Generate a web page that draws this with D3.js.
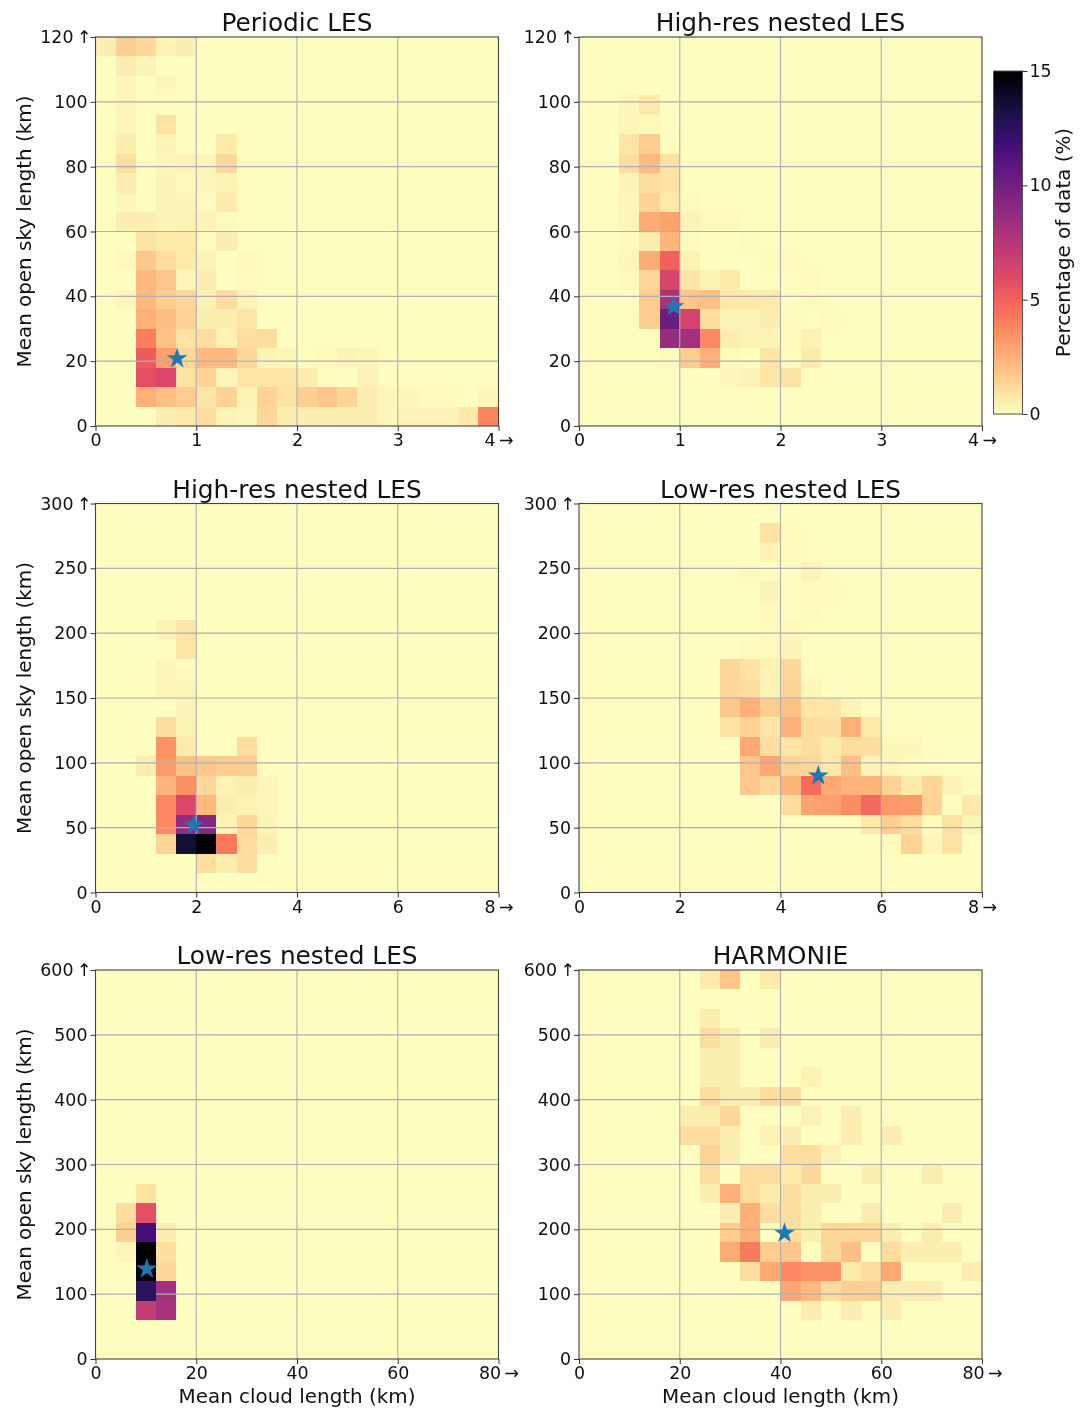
<!DOCTYPE html>
<html>
<head>
<meta charset="utf-8">
<script src="https://cdn.jsdelivr.net/npm/d3@7"></script>
<style>
    body { margin: 0; background: #fff; }
    svg { filter: blur(0.4px); }
    text { font-family: "DejaVu Sans", sans-serif; fill: #111; }
</style>
</head>
<body>
<div id="chart"></div>
<script>
// Percentage of data per bin, rows go from the top of the panel to the bottom
const periodicLes = [
    [.5,1.5,1.2,.4,.5,0,0,0,0,0,0,0,0,0,0,0,0,0,0,0],
    [.05,.5,.3,.05,0,0,0,0,0,0,0,0,0,0,0,0,0,0,0,0],
    [.05,.25,.05,.2,.03,0,0,0,0,0,0,0,0,0,0,0,0,0,0,0],
    [.05,.2,.05,.05,0,0,0,0,0,0,0,0,0,0,0,0,0,0,0,0],
    [0,.2,.03,.9,0,0,0,0,0,0,0,0,0,0,0,0,0,0,0,0],
    [.05,.5,.05,.3,.05,0,.6,0,0,0,0,0,0,0,0,0,0,0,0,0],
    [.05,1,.05,.2,.3,.2,1.2,0,0,0,0,0,0,0,0,0,0,0,0,0],
    [.05,.5,.05,.3,.15,.25,.4,0,0,0,0,0,0,0,0,0,0,0,0,0],
    [.05,.2,.05,.3,.35,.1,.6,0,0,0,0,0,0,0,0,0,0,0,0,0],
    [.05,.5,.5,.35,.4,.3,.1,0,0,0,0,0,0,0,0,0,0,0,0,0],
    [0,0,.9,.7,.7,.1,.5,0,0,0,0,0,0,0,0,0,0,0,0,0],
    [0,.15,1.7,1,.6,.3,.05,.15,0,0,0,0,0,0,0,0,0,0,0,0],
    [0,0,2.2,1.8,.2,.5,.05,.1,0,0,0,0,0,0,0,0,0,0,0,0],
    [0,.2,2.2,1.5,1.2,.4,1,.3,0,0,0,0,0,0,0,0,0,0,0,0],
    [0,0,2.5,2.1,1.4,.5,.5,.8,0,0,0,0,0,0,0,0,0,0,0,0],
    [0,0,4,1.9,.9,1,.4,1,1,0,0,0,0,0,0,0,0,0,0,0],
    [0,0,5.2,3,1.2,2.2,2.2,1.2,.3,.2,0,.1,.3,.2,0,0,0,0,0,0],
    [0,0,5.8,6.1,.9,1.3,.2,.8,.8,.8,.5,0,0,.3,0,0,0,0,0,0],
    [0,0,2.5,2,1.6,.8,1.4,.3,1.4,.9,1.5,1.8,1.3,.5,.2,.2,.1,.1,.03,.2],
    [0,0,0,.5,.7,1,.3,.2,1.2,.5,.5,.5,.5,.5,.2,.3,.3,.3,.7,3.8]
];
const highResSmall = [
    [0,0,0,0,0,0,0,0,0,0,0,0,0,0,0,0,0,0,0,0],
    [0,0,0,0,0,0,0,0,0,0,0,0,0,0,0,0,0,0,0,0],
    [0,0,0,0,0,0,0,0,0,0,0,0,0,0,0,0,0,0,0,0],
    [0,0,.2,.6,0,0,0,0,0,0,0,0,0,0,0,0,0,0,0,0],
    [0,0,.2,.15,0,0,0,0,0,0,0,0,0,0,0,0,0,0,0,0],
    [0,0,.8,1.6,.1,0,0,0,0,0,0,0,0,0,0,0,0,0,0,0],
    [0,0,1,2.2,.9,0,0,0,0,0,0,0,0,0,0,0,0,0,0,0],
    [0,0,.3,1,.9,0,0,0,0,0,0,0,0,0,0,0,0,0,0,0],
    [0,0,.25,1.4,.7,.1,0,0,0,0,0,0,0,0,0,0,0,0,0,0],
    [0,0,.25,2.6,2.9,.3,.1,.1,0,0,0,0,0,0,0,0,0,0,0,0],
    [0,0,.15,.5,2.3,.1,0,0,.1,0,0,0,0,0,0,0,0,0,0,0],
    [0,0,.25,2.6,5,.4,0,0,0,.1,.1,0,0,0,0,0,0,0,0,0],
    [0,0,.15,1.2,6.3,.8,.4,.6,0,0,0,.1,0,0,0,0,0,0,0,0],
    [0,0,0,1.6,8,1.8,2,.7,.7,.6,0,.1,0,0,0,0,0,0,0,0],
    [0,0,0,1.5,10.2,6.4,1.1,.3,.3,.5,.1,0,.1,0,0,0,0,0,0,0],
    [0,0,0,0,8.6,8.2,3.7,.5,.4,.3,.1,.4,0,0,0,0,0,0,0,0],
    [0,0,0,0,.1,1.6,2.5,.1,.03,.8,.03,.6,0,0,0,0,0,0,0,0],
    [0,0,0,0,0,0,0,.2,.35,.8,.9,0,0,0,0,0,0,0,0,0],
    [0,0,0,0,0,0,0,0,0,0,0,0,0,0,0,0,0,0,0,0],
    [0,0,0,0,0,0,0,0,0,0,0,0,0,0,0,0,0,0,0,0]
];
const highResLarge = [
    [0,0,0,0,0,0,0,0,0,0,0,0,0,0,0,0,0,0,0,0],
    [0,0,0,0,0,0,0,0,0,0,0,0,0,0,0,0,0,0,0,0],
    [0,0,0,0,0,0,0,0,0,0,0,0,0,0,0,0,0,0,0,0],
    [0,0,0,0,0,0,0,0,0,0,0,0,0,0,0,0,0,0,0,0],
    [0,0,0,0,0,0,0,0,0,0,0,0,0,0,0,0,0,0,0,0],
    [0,0,0,0,0,0,0,0,0,0,0,0,0,0,0,0,0,0,0,0],
    [0,0,0,.4,.8,0,0,0,0,0,0,0,0,0,0,0,0,0,0,0],
    [0,0,0,.05,.8,0,0,0,0,0,0,0,0,0,0,0,0,0,0,0],
    [0,0,0,.2,.1,0,0,0,0,0,0,0,0,0,0,0,0,0,0,0],
    [0,0,0,.2,.2,0,0,0,0,0,0,0,0,0,0,0,0,0,0,0],
    [0,0,0,.05,.3,0,0,0,0,0,0,0,0,0,0,0,0,0,0,0],
    [0,0,0,1,.4,0,0,0,0,0,0,0,0,0,0,0,0,0,0,0],
    [0,0,0,3.4,.6,0,0,1,0,0,0,0,0,0,0,0,0,0,0,0],
    [0,0,.5,3.2,1.9,1.7,1.6,1.6,0,0,0,0,0,0,0,0,0,0,0,0],
    [0,0,0,2.3,3.5,1.2,.4,.5,.2,0,0,0,0,0,0,0,0,0,0,0],
    [0,0,0,3.7,6.1,2.2,.5,.4,.2,0,0,0,0,0,0,0,0,0,0,0],
    [0,0,0,3.7,8.8,9.2,.3,1.2,.3,0,0,0,0,0,0,0,0,0,0,0],
    [0,0,0,1.3,13.5,15,4.2,1.1,.5,0,0,0,0,0,0,0,0,0,0,0],
    [0,0,0,0,0,1,.5,1,0,0,0,0,0,0,0,0,0,0,0,0],
    [0,0,0,0,0,0,0,0,0,0,0,0,0,0,0,0,0,0,0,0]
];
const lowResMedium = [
    [0,0,0,0,0,0,0,0,0,0,0,0,0,0,0,0,0,0,0,0],
    [0,0,0,0,0,0,0,0,0,.9,.1,0,0,0,0,0,0,0,0,0],
    [0,0,0,0,0,0,0,0,0,.35,.1,0,0,0,0,0,0,0,0,0],
    [0,0,0,0,0,0,0,0,.1,0,0,.3,0,0,0,0,0,0,0,0],
    [0,0,0,0,0,0,0,0,0,.3,0,.1,.1,0,0,0,0,0,0,0],
    [0,0,0,0,0,0,0,0,0,.15,0,.1,0,0,0,0,0,0,0,0],
    [0,0,0,0,0,0,0,0,0,.1,.15,0,0,0,0,0,0,0,0,0],
    [0,0,0,0,0,0,0,0,.1,.1,.3,0,0,0,0,0,0,0,0,0],
    [0,0,0,0,0,0,0,1.2,.9,.4,1.2,0,0,0,0,0,0,0,0,0],
    [0,0,0,0,0,0,0,1.2,1,.3,1.3,.25,0,0,0,0,0,0,0,0],
    [0,0,0,0,0,0,0,1.7,2.5,1.6,1.9,.8,.8,.3,0,0,0,0,0,0],
    [0,0,0,0,0,0,0,.9,1.4,.8,2.5,1.1,1,2.5,.6,0,0,0,0,0],
    [0,0,0,0,0,0,0,0,2.7,1,.8,1,.6,1.1,1,.2,.2,0,0,0],
    [0,0,0,0,0,0,0,0,1.8,2.8,1.4,1.2,.7,2,.3,.2,.1,.1,0,0],
    [0,0,0,0,0,0,0,0,1.7,1.2,2.3,4.6,2.7,2.4,2.4,1.4,.7,1.3,.4,.1],
    [0,0,0,0,0,0,0,0,0,0,1.1,2.9,3,3.6,4.8,3.3,3.2,1.4,.05,.7],
    [0,0,0,0,0,0,0,0,0,0,0,0,0,0,.7,1.5,1,.1,.9,.3],
    [0,0,0,0,0,0,0,0,0,0,0,0,0,0,0,.1,1.4,.2,.9,0],
    [0,0,0,0,0,0,0,0,0,0,0,0,0,0,0,0,0,0,0,0],
    [0,0,0,0,0,0,0,0,0,0,0,0,0,0,0,0,0,0,0,0]
];
const lowResLarge = [
    [0,0,0,0,0,0,0,0,0,0,0,0,0,0,0,0,0,0,0,0],
    [0,0,0,0,0,0,0,0,0,0,0,0,0,0,0,0,0,0,0,0],
    [0,0,0,0,0,0,0,0,0,0,0,0,0,0,0,0,0,0,0,0],
    [0,0,0,0,0,0,0,0,0,0,0,0,0,0,0,0,0,0,0,0],
    [0,0,0,0,0,0,0,0,0,0,0,0,0,0,0,0,0,0,0,0],
    [0,0,0,0,0,0,0,0,0,0,0,0,0,0,0,0,0,0,0,0],
    [0,0,0,0,0,0,0,0,0,0,0,0,0,0,0,0,0,0,0,0],
    [0,0,0,0,0,0,0,0,0,0,0,0,0,0,0,0,0,0,0,0],
    [0,0,0,0,0,0,0,0,0,0,0,0,0,0,0,0,0,0,0,0],
    [0,0,0,0,0,0,0,0,0,0,0,0,0,0,0,0,0,0,0,0],
    [0,0,0,0,0,0,0,0,0,0,0,0,0,0,0,0,0,0,0,0],
    [0,0,.9,0,0,0,0,0,0,0,0,0,0,0,0,0,0,0,0,0],
    [0,1.1,5.7,0,0,0,0,0,0,0,0,0,0,0,0,0,0,0,0,0],
    [0,1.5,11.7,.5,0,0,0,0,0,0,0,0,0,0,0,0,0,0,0,0],
    [0,.2,15,1,0,0,0,0,0,0,0,0,0,0,0,0,0,0,0,0],
    [0,0,15,1.2,0,0,0,0,0,0,0,0,0,0,0,0,0,0,0,0],
    [0,0,12.5,8.2,0,0,0,0,0,0,0,0,0,0,0,0,0,0,0,0],
    [0,0,7,8,0,0,0,0,0,0,0,0,0,0,0,0,0,0,0,0],
    [0,0,0,0,0,0,0,0,0,0,0,0,0,0,0,0,0,0,0,0],
    [0,0,0,0,0,0,0,0,0,0,0,0,0,0,0,0,0,0,0,0]
];
const harmonie = [
    [0,0,0,0,0,0,.6,1.8,0,.6,0,0,0,0,0,0,0,0,0,0],
    [0,0,0,0,0,0,0,0,0,0,0,0,0,0,0,0,0,0,0,0],
    [0,0,0,0,0,0,.5,0,0,0,0,0,0,0,0,0,0,0,0,0],
    [0,0,0,0,0,0,1,.5,0,.5,0,0,0,0,0,0,0,0,0,0],
    [0,0,0,0,0,0,.5,.5,0,0,0,0,0,0,0,0,0,0,0,0],
    [0,0,0,0,0,0,.5,.5,0,0,0,.4,0,0,0,0,0,0,0,0],
    [0,0,0,0,0,0,1,.5,.5,1,1,0,0,0,0,0,0,0,0,0],
    [0,0,0,0,0,.5,.5,1.2,0,0,0,.4,0,.5,0,0,0,0,0,0],
    [0,0,0,0,0,1,1,.5,0,.4,.5,0,0,.5,0,.5,0,0,0,0],
    [0,0,0,0,0,0,1.4,.5,0,0,1,1,.4,0,0,0,0,0,0,0],
    [0,0,0,0,0,0,1,0,1.1,1.1,.6,1.2,0,0,.5,0,0,.5,0,0],
    [0,0,0,0,0,0,.5,2.5,1.1,.6,1,.5,.5,0,0,0,0,0,0,0],
    [0,0,0,0,0,0,0,.5,2.5,1,1,.5,0,0,.5,0,0,0,.5,0],
    [0,0,0,0,0,0,0,1.6,2.5,0,1,.5,1.2,1.2,1.2,.5,0,.5,0,0],
    [0,0,0,0,0,0,0,2.6,4.2,1.6,1.8,0,1.2,2,0,1.1,.5,.5,.5,0],
    [0,0,0,0,0,0,0,0,1,2.7,3.7,3.4,3.4,.6,1.1,2.7,0,0,0,.5],
    [0,0,0,0,0,0,0,0,0,0,2.8,2.2,1.1,1.5,1.5,.5,.5,.5,0,0],
    [0,0,0,0,0,0,0,0,0,0,0,.5,0,.5,0,.5,0,0,0,0],
    [0,0,0,0,0,0,0,0,0,0,0,0,0,0,0,0,0,0,0,0],
    [0,0,0,0,0,0,0,0,0,0,0,0,0,0,0,0,0,0,0,0]
];

const panelGrids = [periodicLes, highResSmall, highResLarge, lowResMedium, lowResLarge, harmonie];
const panelTitles = ['Periodic LES', 'High-res nested LES', 'High-res nested LES', 'Low-res nested LES', 'Low-res nested LES', 'HARMONIE'];
const xMaxes = [4, 4, 8, 8, 80, 80];
const yMaxes = [120, 120, 300, 300, 600, 600];
const xTickValues = [[0, 1, 2, 3, 4], [0, 1, 2, 3, 4], [0, 2, 4, 6, 8], [0, 2, 4, 6, 8], [0, 20, 40, 60, 80], [0, 20, 40, 60, 80]];
const yTickValues = [
    [0, 20, 40, 60, 80, 100, 120], [0, 20, 40, 60, 80, 100, 120],
    [0, 50, 100, 150, 200, 250, 300], [0, 50, 100, 150, 200, 250, 300],
    [0, 100, 200, 300, 400, 500, 600], [0, 100, 200, 300, 400, 500, 600]
];
const starX = [0.81, 0.94, 1.95, 4.75, 10.2, 40.8];
const starY = [20.8, 36.8, 52, 90, 139, 194];
const colorbarTicks = [0, 5, 10, 15];

const width = 1088;
const height = 1409;
const panelW = 403;
const panelH = 389;
const lefts = [95.5, 579];
const tops = [37, 503.5, 970];
const vmax = 15;

// magma reversed, low values are pale yellow
const color = v => d3.interpolateMagma(1 - v / vmax);

const svg = d3.select('#chart').append('svg')
    .attr('width', width)
    .attr('height', height)
    .style('display', 'block');

function styleAxis(g) {
    g.selectAll('.domain').remove();
    g.selectAll('line').attr('stroke', '#333').attr('stroke-width', 1);
    g.selectAll('text').attr('font-size', 17.4).style('fill', '#111');
}

function drawPanel(i) {
    const col = i % 2;
    const row = Math.floor(i / 2);
    const g = svg.append('g')
        .attr('transform', `translate(${lefts[col]},${tops[row]})`);

    const x = d3.scaleLinear().domain([0, xMaxes[i]]).range([0, panelW]);
    const y = d3.scaleLinear().domain([0, yMaxes[i]]).range([panelH, 0]);
    const xStep = xMaxes[i] / 20;
    const yStep = yMaxes[i] / 20;

    const cells = [];
    panelGrids[i].forEach((values, r) => {
        values.forEach((v, c) => cells.push({ c, r: 19 - r, v }));
    });

    const drawCells = (selection, data) => selection.selectAll('rect')
        .data(data)
        .enter().append('rect')
        .attr('x', d => x(d.c * xStep))
        .attr('y', d => y((d.r + 1) * yStep))
        .attr('width', d => x((d.c + 1) * xStep) - x(d.c * xStep))
        .attr('height', d => y(d.r * yStep) - y((d.r + 1) * yStep))
        .attr('fill', d => color(d.v))
        .attr('shape-rendering', 'crispEdges');

    drawCells(g.append('g'), cells);

    // Grid lines
    const grid = g.append('g').attr('stroke', '#b0b0b0').attr('stroke-width', 1.1);
    grid.selectAll('.vline')
        .data(xTickValues[i].slice(1, -1))
        .enter().append('line')
        .attr('x1', d => x(d)).attr('x2', d => x(d))
        .attr('y1', 0).attr('y2', panelH);
    grid.selectAll('.hline')
        .data(yTickValues[i].slice(1, -1))
        .enter().append('line')
        .attr('y1', d => y(d)).attr('y2', d => y(d))
        .attr('x1', 0).attr('x2', panelW);

    // The darkest cells hide the grid in the original
    drawCells(g.append('g'), cells.filter(d => d.v >= 11));

    g.append('rect')
        .attr('width', panelW)
        .attr('height', panelH)
        .attr('fill', 'none')
        .attr('stroke', '#444')
        .attr('stroke-width', 1.1);

    const xLast = xMaxes[i];
    const yLast = yMaxes[i];
    g.append('g')
        .attr('transform', `translate(0,${panelH})`)
        .call(d3.axisBottom(x)
            .tickValues(xTickValues[i])
            .tickSize(5).tickPadding(3)
            .tickFormat(d => d === xLast ? `${d}\u2009\u2192` : d))
        .call(styleAxis);
    const yAxis = g.append('g')
        .call(d3.axisLeft(y)
            .tickValues(yTickValues[i])
            .tickSize(5).tickPadding(3)
            .tickFormat(d => d === yLast ? `${d}\u2009\u2191` : d))
        .call(styleAxis);
    // the arrow label sticks out a bit to the right of the others
    yAxis.selectAll('.tick text')
        .filter(d => d === yLast)
        .attr('dx', 4);

    g.append('path')
        .attr('d', d3.symbol(d3.symbolStar, 135))
        .attr('transform', `translate(${x(starX[i])},${y(starY[i])})`)
        .attr('fill', '#1f77b4');

    g.append('text')
        .attr('x', panelW / 2)
        .attr('y', -6)
        .attr('text-anchor', 'middle')
        .attr('font-size', 24.8)
        .text(panelTitles[i]);

    if (row === 2) {
        g.append('text')
            .attr('x', panelW / 2)
            .attr('y', panelH + 44)
            .attr('text-anchor', 'middle')
            .attr('font-size', 19.9)
            .text('Mean cloud length (km)');
    }
    if (col === 0) {
        g.append('text')
            .attr('transform', `translate(-64.5,${panelH / 2}) rotate(-90)`)
            .attr('text-anchor', 'middle')
            .attr('font-size', 19.9)
            .text('Mean open sky length (km)');
    }
}

function drawColorbar() {
    const barLeft = 993.5;
    const barTop = 71;
    const barW = 29;
    const barH = 343;
    const g = svg.append('g').attr('transform', `translate(${barLeft},${barTop})`);
    const scale = d3.scaleLinear().domain([0, vmax]).range([barH, 0]);

    const levels = d3.range(0, 256).map(d => d / 256 * vmax);
    g.selectAll('rect')
        .data(levels)
        .enter().append('rect')
        .attr('x', 0)
        .attr('width', barW)
        .attr('y', d => scale(d + vmax / 256))
        .attr('height', barH / 256 + 1)
        .attr('fill', d => color(d))
        .attr('shape-rendering', 'crispEdges');

    g.append('rect')
        .attr('width', barW)
        .attr('height', barH)
        .attr('fill', 'none')
        .attr('stroke', '#555')
        .attr('stroke-width', 1);

    g.append('g')
        .attr('transform', `translate(${barW},0)`)
        .call(d3.axisRight(scale).tickValues(colorbarTicks).tickSize(5).tickPadding(2))
        .call(styleAxis);

    g.append('text')
        .attr('transform', `translate(70,${barH / 2}) rotate(-90)`)
        .attr('text-anchor', 'middle')
        .attr('dominant-baseline', 'central')
        .attr('font-size', 19.9)
        .text('Percentage of data (%)');
}

d3.range(6).forEach(drawPanel);
drawColorbar();
</script>
</body>
</html>
